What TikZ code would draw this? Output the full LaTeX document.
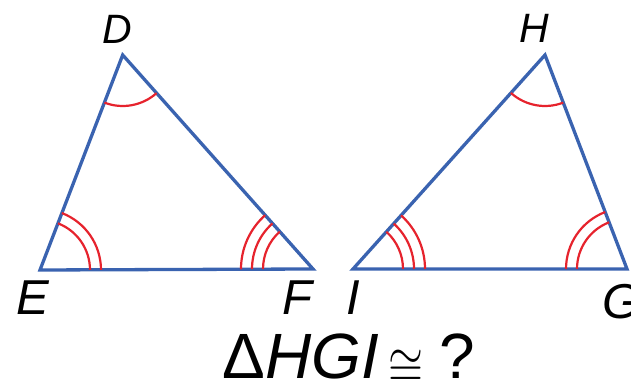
\documentclass[tikz,border=0pt]{standalone}
\usepackage{fontspec}
\usepackage{graphicx}
\setmainfont{Liberation Sans}
\usetikzlibrary{angles}
\definecolor{triblue}{RGB}{58,99,176}
\definecolor{arcred}{RGB}{230,35,45}
\newcommand{\bigcongsign}{\raisebox{-4.5pt}{\scalebox{4.5}[5.3]{\normalsize$\cong$}}}
\begin{document}
\begin{tikzpicture}[x=1pt,y=1pt,
  tri/.style={draw=triblue, line width=3.3pt, line join=miter},
  arcmark/.style={draw=arcred, line width=2.2pt},
  toplbl/.style={font=\fontsize{41}{42}\selectfont\itshape, anchor=base, inner sep=0pt},
  botlbl/.style={font=\fontsize{49}{50}\selectfont\itshape, anchor=base, inner sep=0pt}]
\useasboundingbox (0,0) rectangle (631,382);
\clip (0,0) rectangle (631,382);
% triangle DEF
\coordinate (D) at (122.7,327);
\coordinate (E) at (40,112);
\coordinate (F) at (313,113);
% triangle HGI
\coordinate (H) at (545,327);
\coordinate (I) at (353,113);
\coordinate (G) at (627,113);
\draw[tri] (D) -- (E) -- (F) -- cycle;
\draw[tri] (H) -- (I) -- (G) -- cycle;
% angle marks DEF
\pic[arcmark, angle radius=51pt] {angle=E--D--F};
\pic[arcmark, angle radius=50pt] {angle=F--E--D};
\pic[arcmark, angle radius=61pt] {angle=F--E--D};
\pic[arcmark, angle radius=50pt] {angle=D--F--E};
\pic[arcmark, angle radius=61pt] {angle=D--F--E};
\pic[arcmark, angle radius=72pt] {angle=D--F--E};
% angle marks HGI
\pic[arcmark, angle radius=51pt] {angle=I--H--G};
\pic[arcmark, angle radius=50pt] {angle=G--I--H};
\pic[arcmark, angle radius=61pt] {angle=G--I--H};
\pic[arcmark, angle radius=72pt] {angle=G--I--H};
\pic[arcmark, angle radius=50pt] {angle=H--G--I};
\pic[arcmark, angle radius=61pt] {angle=H--G--I};
% labels
\node[toplbl] (lD) at (117,338) {D};
\node[toplbl] (lH) at (534,339) {H};
\node[botlbl] (lE) at (33,67) {E};
\node[botlbl] (lF) at (297,67) {F};
\node[botlbl] (lI) at (353,67) {I};
\node[botlbl] (lG) at (622,63) {G};
\node[anchor=base, inner sep=0pt, font=\fontsize{64}{70}\selectfont] (q) at (349,3)
  {Δ\textit{HGI}\hspace{10pt}\bigcongsign\hspace{16pt}?};
\end{tikzpicture}
\end{document}
